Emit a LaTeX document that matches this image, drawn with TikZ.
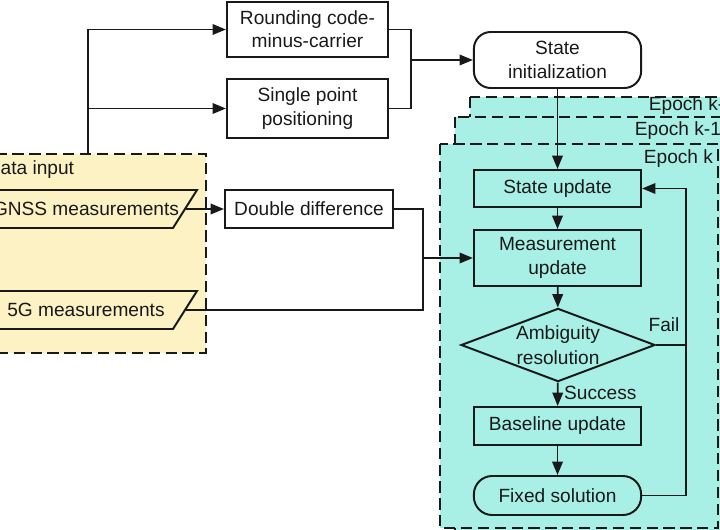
\documentclass[tikz,border=0pt]{standalone}
\usepackage{fontspec}
\setmainfont{Liberation Sans}
\usepackage{xcolor}
\usetikzlibrary{shapes.geometric,arrows.meta,positioning,calc}
\definecolor{inputyellow}{RGB}{253,242,196}
\definecolor{epochteal}{RGB}{168,240,230}
\definecolor{inkgray}{RGB}{25,25,25}

\begin{document}
\begin{tikzpicture}[x=0.025cm,y=-0.025cm,
    font=\fontsize{13.6}{16.5}\selectfont, color=inkgray,
    >={Triangle[length=9.5pt,width=7.5pt]}, line width=1.25pt,
    proc/.style={draw,line width=1.4pt,align=center,minimum width=4.18cm,inner sep=2pt},
    term/.style={proc,rounded corners=12pt},
    decision/.style={diamond,draw,line width=1.4pt,align=center,aspect=2.65,inner sep=0pt,
        minimum width=4.85cm,minimum height=1.83cm,font=\fontsize{13.6}{18}\selectfont},
    datashape/.style={draw,line width=1.4pt,fill=inputyellow},
    datatext/.style={minimum width=4.95cm,minimum height=0.95cm,inner sep=0pt},
    groupbox/.style={draw,line width=1.5pt,dash pattern=on 8pt off 4pt},
    tag/.style={inner sep=0pt}]
    \useasboundingbox (0,0) rectangle (720,530);
    \clip (0,0) rectangle (720,530);

    % epochs, back to front
    \draw[groupbox,fill=epochteal] (470,97) rectangle (780,560);
    \draw[groupbox,fill=epochteal] (455,117) rectangle (770,560);
    \draw[groupbox,fill=epochteal] (440,144) rectangle (718,528);
    \node[tag,anchor=west] (ekm2) at (648,106) {Epoch k-2};
    \node[tag,anchor=west] (ekm1) at (634,131) {Epoch k-1};
    \node[tag,anchor=west] (ek) at (643,159) {Epoch k};

    % data input
    \node[groupbox,fill=inputyellow,minimum width=5.65cm,minimum height=4.975cm] (datain) at (93,253.5) {};
    \node[tag,anchor=west] (dilabel) at (-14,170) {Data input};
    \draw[datashape] (-25,228) -- (-1,190) -- (197,190) -- (173,228) -- cycle;
    \node[datatext] (gnss) at (86,209) {GNSS measurements};
    \draw[datashape] (-25,329) -- (-1,291) -- (197,291) -- (173,329) -- cycle;
    \node[datatext] (fiveg) at (86,310) {5G measurements};

    % preprocessing
    \node[proc,minimum width=4.03cm,minimum height=1.375cm] (round) at (307.5,29.5) {Rounding code-\\minus-carrier};
    \node[proc,minimum width=4.03cm,minimum height=1.475cm] (spp) at (307.5,108.5) {Single point\\positioning};
    \node[proc,minimum width=4.2cm,minimum height=0.95cm] (dd) at (309,209) {Double difference};
    \node[term,minimum height=1.4cm] (init) at (557.5,60) {State\\initialization};

    % filter
    \node[proc,minimum height=0.925cm] (supd) at (557.5,188.5) {State update};
    \node[proc,minimum height=1.4cm] (mupd) at (557.5,258) {Measurement\\update};
    \node[decision] (amb) at (558,345) {Ambiguity\\resolution};
    \node[proc,minimum height=0.95cm] (base) at (557.5,426) {Baseline update};
    \node[term,rounded corners=13pt,minimum height=0.975cm] (fixed) at (557.5,495.5) {Fixed solution};

    \coordinate (fork) at (88,29);
    \coordinate (join) at (411,60);
    \coordinate (merge) at (423,258);
    \coordinate (loop) at (686,188.5);

    \draw[->] (datain.north -| fork) |- (round.west);
    \draw[->] (fork |- spp.west) -- (spp.west);
    \draw (round.east) -| (join);
    \draw (spp.east) -| (join);
    \draw[->] (join) -- (init.west);
    \draw[->] (init.south) -- (supd.north);

    \draw[->] (gnss.east) -- (dd.west);
    \draw (dd.east) -| (merge);
    \draw (fiveg.east) -| (merge);
    \draw[->] (merge) -- (mupd.west);

    \draw[->] (supd) -- (mupd);
    \draw[->] (mupd) -- (amb);
    \draw[->] (amb) -- (base) node[tag,anchor=west,pos=0.45,xshift=4pt] (succ) {Success};
    \draw[->] (base) -- (fixed);

    \draw (amb.east) -| (loop);
    \draw (fixed.east) -| (loop);
    \draw[->] (loop) -- (supd.east);
    \node[tag] (fail) at (664,325) {Fail};
\end{tikzpicture}
\end{document}
